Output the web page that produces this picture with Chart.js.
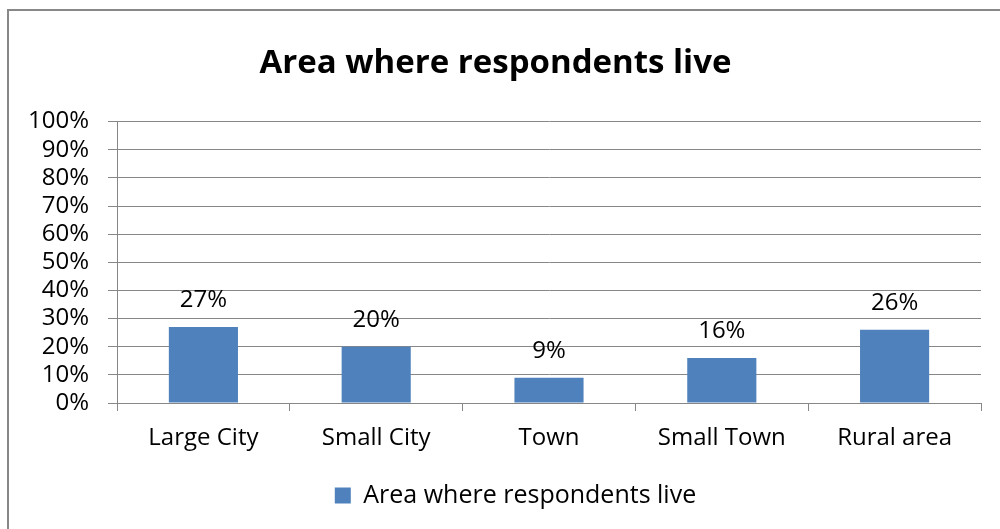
<!DOCTYPE html>
<html>
<head>
<meta charset="utf-8">
<title>Area where respondents live</title>
<script src="https://cdn.jsdelivr.net/npm/chart.js@4/dist/chart.umd.min.js"></script>
<style>
  html, body { margin: 0; padding: 0; background: #fff; }
  #wrap { width: 1000px; height: 529px; position: relative; }
</style>
</head>
<body>
<div id="wrap"><canvas id="myChart"></canvas></div>
<script>
// chart data
const categories = ["Large City", "Small City", "Town", "Small Town", "Rural area"];
const shares = [27, 20, 9, 16, 26];
const seriesLabel = "Area where respondents live";
const yMin = 0;
const yMax = 100;
const yStep = 10;

const gridColor = "#878787";
const barColor = "#4F81BD";
const fontFamily = "'Open Sans', 'Liberation Sans', sans-serif";

// frame round the whole chart (only top and left edge fall inside the picture)
const framePlugin = {
  id: "frame",
  beforeDraw(chart) {
    const ctx = chart.ctx;
    ctx.save();
    ctx.fillStyle = "#fff";
    ctx.fillRect(0, 0, chart.width, chart.height);
    ctx.strokeStyle = "#888888";
    ctx.lineWidth = 2;
    ctx.beginPath();
    ctx.moveTo(8, chart.height + 2);
    ctx.lineTo(8, 10);
    ctx.lineTo(chart.width + 2, 10);
    ctx.stroke();
    ctx.restore();
  },
  // legend sits a bit right of centre in the original
  afterLayout(chart) {
    if (chart.legend) {
      chart.legend.left += 20;
      chart.legend.right += 20;
    }
  },
};

// value labels above each bar
const valueLabels = {
  id: "valueLabels",
  afterDatasetsDraw(chart) {
    const ctx = chart.ctx;
    const meta = chart.getDatasetMeta(0);
    ctx.save();
    ctx.font = "24px " + fontFamily;
    ctx.fillStyle = "#000";
    ctx.textAlign = "center";
    ctx.textBaseline = "middle";
    meta.data.forEach((bar, i) => {
      ctx.fillText(shares[i] + "%", bar.x, bar.y - 27);
    });
    ctx.restore();
  },
};

const ctx = document.getElementById("myChart").getContext("2d");
const chart = new Chart(ctx, {
  type: "bar",
  data: {
    labels: categories,
    datasets: [
      {
        label: seriesLabel,
        data: shares,
        backgroundColor: barColor,
        borderWidth: 0,
        barPercentage: 0.4,
        categoryPercentage: 1,
      },
    ],
  },
  options: {
    responsive: true,
    maintainAspectRatio: false,
    animation: false,
    devicePixelRatio: 1,
    layout: {
      padding: { left: 10, right: 19, top: 0, bottom: 11 },
    },
    plugins: {
      title: {
        display: true,
        text: seriesLabel,
        color: "#000",
        font: { family: fontFamily, size: 33, weight: "bold", lineHeight: 1.2 },
        padding: { top: 44, bottom: 38 },
      },
      legend: {
        display: true,
        position: "bottom",
        labels: {
          color: "#000",
          font: { family: fontFamily, size: 25 },
          boxWidth: 16,
          boxHeight: 16,
          padding: 23,
        },
      },
      tooltip: { enabled: false },
    },
    scales: {
      x: {
        grid: {
          display: true,
          offset: true,
          drawOnChartArea: false,
          drawTicks: true,
          tickLength: 8,
          color: gridColor,
        },
        border: { display: true, color: gridColor, width: 1 },
        ticks: {
          color: "#000",
          font: { family: fontFamily, size: 24 },
          padding: 13,
          maxRotation: 0,
        },
        afterFit(scale) {
          scale.height = 57;
        },
      },
      y: {
        min: yMin,
        max: yMax,
        grid: {
          color: gridColor,
          tickLength: 9,
        },
        border: { display: true, color: gridColor, width: 1 },
        ticks: {
          stepSize: yStep,
          autoSkip: false,
          color: "#000",
          font: { family: fontFamily, size: 24, lineHeight: 1 },
          padding: 19,
          callback: (v) => v + "%",
        },
        afterFit(scale) {
          scale.width = 107;
        },
      },
    },
  },
  plugins: [framePlugin, valueLabels],
});
</script>
</body>
</html>
